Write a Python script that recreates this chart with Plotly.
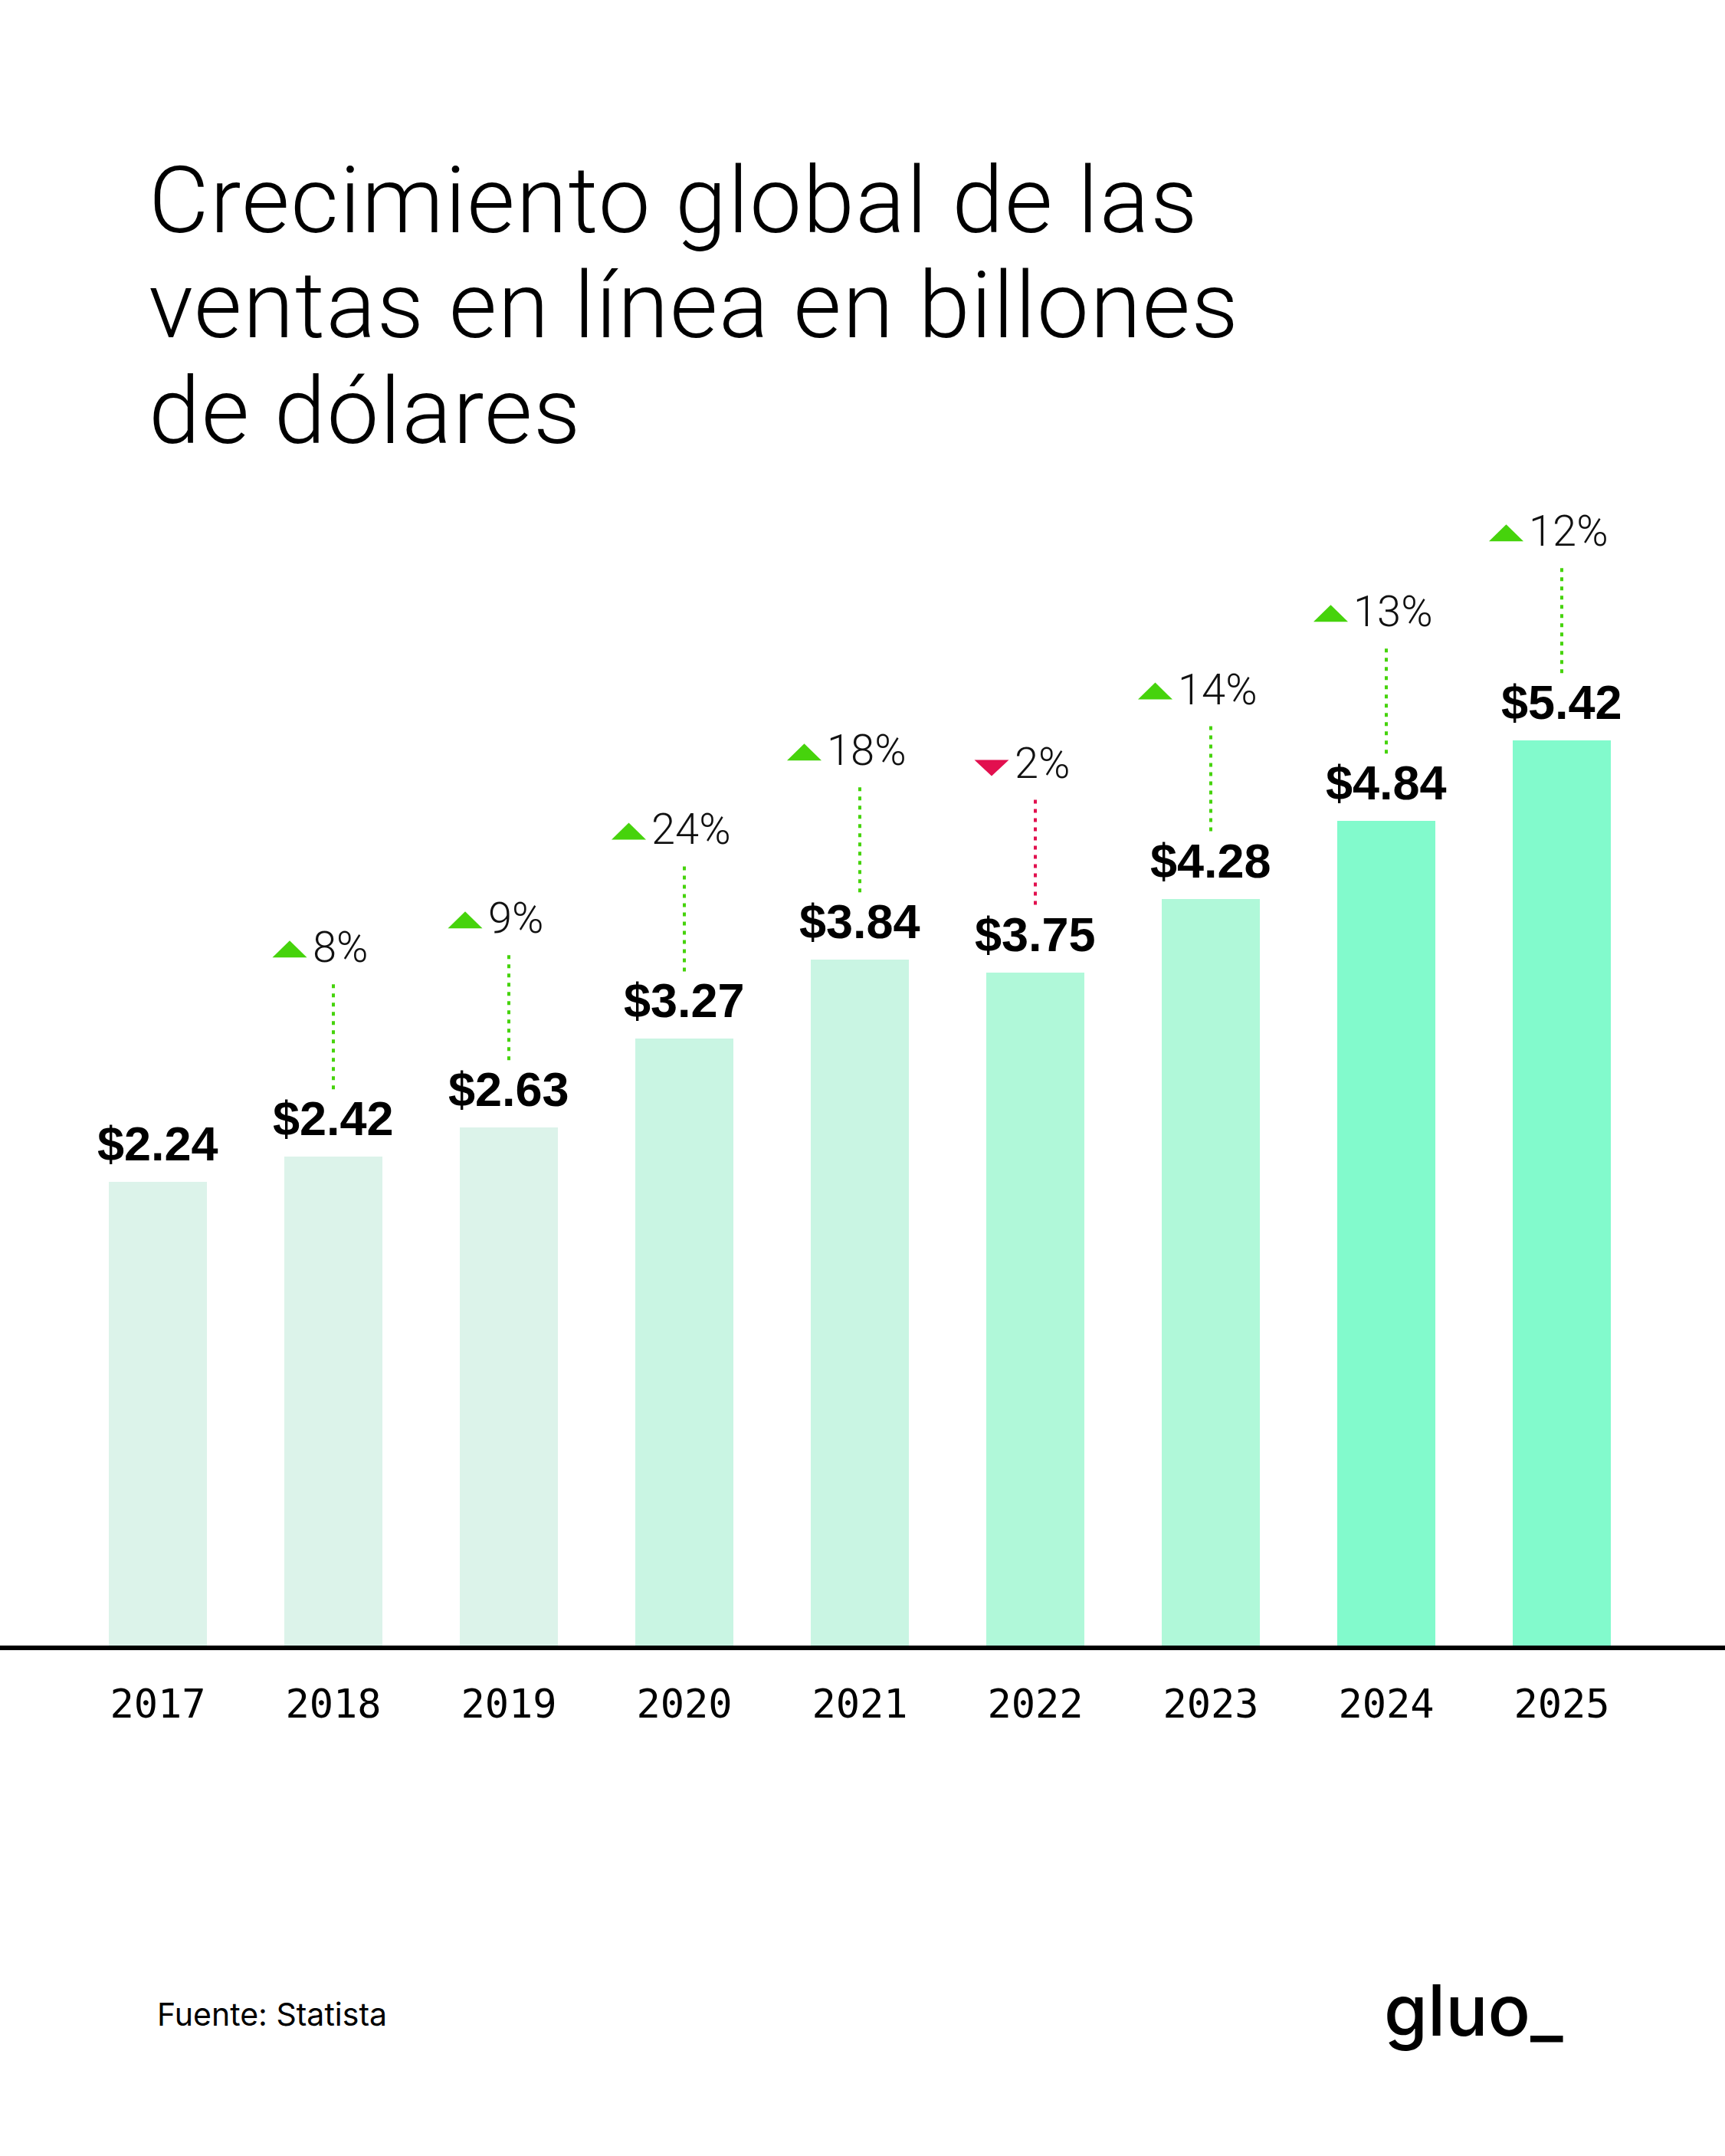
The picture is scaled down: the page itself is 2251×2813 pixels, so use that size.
import plotly.graph_objects as go

# ---- data ----
years = [2017, 2018, 2019, 2020, 2021, 2022, 2023, 2024, 2025]
sales = [2.24, 2.42, 2.63, 3.27, 3.84, 3.75, 4.28, 4.84, 5.42]
growth = [None, 8, 9, 24, 18, -2, 14, 13, 12]
tick_labels = ["2017", "2018", "2019", "2020", "2021", "2022", "2023", "2024", "2025"]
title_lines = ["Crecimiento global de las", "ventas en línea en billones", "de dólares"]
source_text = "Fuente: Statista"
logo_text = "gluo_"

# ---- style ----
bar_colors = ["#dcf3ea", "#dcf3ea", "#dcf3ea", "#c9f5e3", "#c9f5e3",
              "#b0f8d9", "#b0f8d9", "#82facc", "#82facc"]
UP = "#46d30c"
DOWN = "#e2104f"
W, H = 2251, 2813
PLOT_BOTTOM = 2150          # pixel row of the baseline
PX_PER_UNIT = 181.0
AXIS_FLOOR = -1.12          # visual floor of the value axis
X_PX_PER_YEAR = 229.0
FIRST_CENTER_PX = 206.0

TITLE_FONT = "Roboto"
BODY_FONT = "Inter"
VAL_FONT = "Liberation Sans"
MONO_FONT = "DejaVu Sans Mono"

x_lo = years[0] - FIRST_CENTER_PX / X_PX_PER_YEAR
x_hi = years[0] + (W - FIRST_CENTER_PX) / X_PX_PER_YEAR
y_lo = AXIS_FLOOR
y_hi = AXIS_FLOOR + PLOT_BOTTOM / PX_PER_UNIT


def paper_y(py):
    return (PLOT_BOTTOM - py) / PLOT_BOTTOM


fig = go.Figure()
fig.add_trace(go.Bar(
    x=years, y=[v - AXIS_FLOOR for v in sales], base=AXIS_FLOOR,
    width=0.563, marker=dict(color=bar_colors, line=dict(width=0)),
    hoverinfo="skip", showlegend=False,
))

annotations = []
shapes = []

# value labels
for yr, v in zip(years, sales):
    annotations.append(dict(
        x=yr, y=v, xref="x", yref="y", text=f"<b>${v:.2f}</b>", showarrow=False,
        xanchor="center", yanchor="bottom", yshift=13,
        font=dict(family=VAL_FONT, size=63, color="#000000"),
    ))

# growth labels, triangles and dotted connectors
PCT_SIZE = 56
PCT_BASE = 252   # baseline of pct label above bar top (px)
for yr, v, g in zip(years, sales, growth):
    if g is None:
        continue
    col = UP if g >= 0 else DOWN
    txt = f"{abs(g)}%"
    annotations.append(dict(
        x=yr, y=v, xref="x", yref="y", text=txt, showarrow=False,
        xanchor="center", yanchor="bottom", yshift=PCT_BASE - 14, xshift=9,
        font=dict(family=TITLE_FONT, size=PCT_SIZE, color="#111111", weight=300),
    ))
    ndig = len(str(abs(g)))
    text_w = 31 * ndig + 48
    right = 9 - text_w / 2 - 4
    left = right - 45
    mid = (left + right) / 2
    if g >= 0:
        b0, t0 = PCT_BASE + 8, PCT_BASE + 30
        path = f"M{left},{b0} L{right},{b0} L{mid},{t0} Z"
    else:
        b0, t0 = PCT_BASE + 4, PCT_BASE + 25
        path = f"M{left},{t0} L{right},{t0} L{mid},{b0} Z"
    shapes.append(dict(
        type="path", xref="x", yref="y", xsizemode="pixel", ysizemode="pixel",
        xanchor=yr, yanchor=v, path=path, fillcolor=col, line=dict(width=0),
    ))
    shapes.append(dict(
        type="line", xref="x", yref="y", ysizemode="pixel", yanchor=v,
        x0=yr, x1=yr, y0=88, y1=PCT_BASE - 26,
        line=dict(color=col, width=4, dash="5px,7px"),
    ))

# baseline
shapes.append(dict(type="line", xref="paper", yref="paper", x0=0, x1=1, y0=0, y1=0,
                   line=dict(color="#000000", width=6), layer="above"))

# title lines
for i, line in enumerate(title_lines):
    annotations.append(dict(
        x=192 / W, y=paper_y(262 + 137.5 * i), xref="paper", yref="paper",
        text=f'<span style="letter-spacing:1.5px">{line}</span>',
        showarrow=False, xanchor="left", yanchor="middle",
        font=dict(family=TITLE_FONT, size=121, color="#000000", weight=300),
    ))

# source
annotations.append(dict(
    x=203 / W, y=paper_y(2628), xref="paper", yref="paper", text=source_text,
    showarrow=False, xanchor="left", yanchor="middle",
    font=dict(family=BODY_FONT, size=41, color="#000000"),
))
# logo
annotations.append(dict(
    x=1804 / W, y=paper_y(2622), xref="paper", yref="paper", text=logo_text,
    showarrow=False, xanchor="left", yanchor="middle",
    font=dict(family=BODY_FONT, size=92, color="#000000", weight=500),
))

fig.update_layout(
    width=W, height=H,
    margin=dict(l=0, r=0, t=0, b=H - PLOT_BOTTOM, pad=0),
    paper_bgcolor="#ffffff", plot_bgcolor="#ffffff",
    annotations=annotations, shapes=shapes,
    bargap=0, showlegend=False,
    xaxis=dict(range=[x_lo, x_hi], tickvals=years, ticktext=tick_labels,
               showgrid=False, zeroline=False, showline=False, ticks="",
               tickfont=dict(family=MONO_FONT, size=52, color="#000000"),
               ticklabelstandoff=38, automargin=False, fixedrange=True),
    yaxis=dict(range=[y_lo, y_hi], visible=False, showgrid=False, zeroline=False,
               automargin=False, fixedrange=True),
)

fig.write_html("out.html", config={"displayModeBar": False},
               post_script="document.body.style.margin='0';")
